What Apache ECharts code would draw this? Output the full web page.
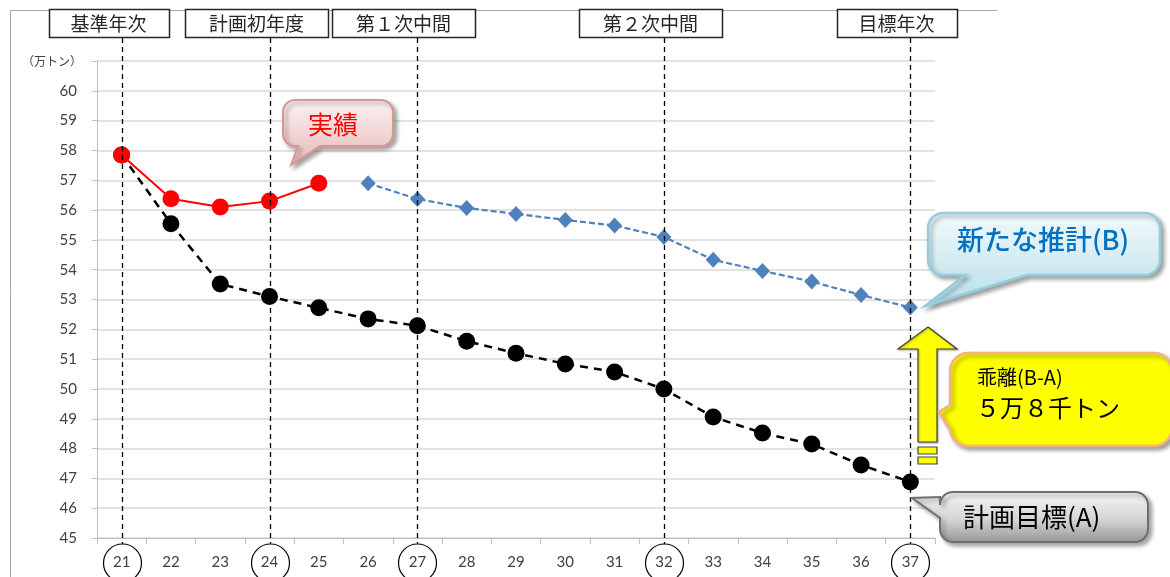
<!DOCTYPE html>
<html><head><meta charset="utf-8">
<script src="https://cdn.jsdelivr.net/npm/echarts@6/dist/echarts.min.js"></script>
<style>html,body{margin:0;padding:0;background:#fff}#c{width:1170px;height:577px}</style>
</head><body><div id="c"></div>
<script>
// ---- data ----
const categories = ['21','22','23','24','25','26','27','28','29','30','31','32','33','34','35','36','37'];
const actualValues = [57.85, 56.38, 56.1, 56.3, 56.9, null, null, null, null, null, null, null, null, null, null, null, null];
const planValues = [57.85, 55.54, 53.52, 53.1, 52.72, 52.35, 52.12, 51.6, 51.2, 50.84, 50.57, 50.0, 49.06, 48.52, 48.15, 47.45, 46.88];
const estimateValues = [null, null, null, null, null, 56.9, 56.37, 56.07, 55.87, 55.67, 55.48, 55.1, 54.33, 53.96, 53.6, 53.15, 52.73];
const yMin = 45, yMax = 61, yInterval = 1;
const unitLabel = '（万トン）';
const milestoneYears = ['21', '24', '27', '32', '37'];
const milestoneLabels = ['基準年次', '計画初年度', '第１次中間', '第２次中間', '目標年次'];

const FONT = 'Lato, "Noto Sans", "Noto Sans CJK JP", sans-serif';
const JP = '"Noto Sans CJK JP", sans-serif';

const chart = echarts.init(document.getElementById('c'), null, {renderer: 'canvas'});
chart.setOption({
  animation: false,
  backgroundColor: '#fff',
  grid: {left: 97, right: 235, top: 61, bottom: 39},
  xAxis: {
    type: 'category', data: categories, boundaryGap: true,
    axisLine: {lineStyle: {color: '#BFBFBF', width: 1}},
    axisTick: {show: true, interval: 0, length: 6, lineStyle: {color: '#BFBFBF'}},
    axisLabel: {interval: 0, margin: 17, color: '#404040', fontSize: 15, fontFamily: FONT}
  },
  yAxis: {
    type: 'value', min: yMin, max: yMax, interval: yInterval,
    axisLine: {show: true, lineStyle: {color: '#BFBFBF'}},
    axisTick: {show: true, length: 5, lineStyle: {color: '#BFBFBF'}},
    splitLine: {lineStyle: {color: '#D9D9D9', width: 1.5}},
    axisLabel: {
      margin: 20, color: '#404040', fontSize: 15, fontFamily: FONT,
      formatter: v => v === yMax ? '{u|' + unitLabel + '}' : String(v),
      rich: {u: {fontSize: 12, color: '#404040', fontFamily: JP, padding: [0, -5, 0, 0]}}
    }
  },
  series: [
    {
      name: '計画目標', type: 'line', data: planValues, z: 3,
      symbol: 'circle', symbolSize: 17,
      itemStyle: {color: '#000'},
      lineStyle: {color: '#000', width: 2.5, type: [8, 6]}
    },
    {
      name: '新たな推計', type: 'line', data: estimateValues, z: 3,
      symbol: 'diamond', symbolSize: [15, 16],
      itemStyle: {color: '#4F81BD'},
      lineStyle: {color: '#4F81BD', width: 2.2, type: [6, 3]}
    },
    {
      name: '実績', type: 'line', data: actualValues, z: 4,
      symbol: 'circle', symbolSize: 17,
      itemStyle: {color: '#FF0000'},
      lineStyle: {color: '#FF0000', width: 2}
    }
  ]
});

function xOf(cat) { return chart.convertToPixel({xAxisIndex: 0}, cat); }

// rounded-rect callout outline as polygon points
function callout(x, y, w, h, r, tail) {
  const pts = [];
  const arc = (cx, cy, a0, a1) => {
    for (let i = 0; i <= 8; i++) {
      const a = (a0 + (a1 - a0) * i / 8) * Math.PI / 180;
      pts.push([cx + r * Math.cos(a), cy + r * Math.sin(a)]);
    }
  };
  if (tail && tail.edge === 'top') { pts.push([tail.a, y], tail.tip, [tail.b, y]); }
  arc(x + w - r, y + r, -90, 0);
  arc(x + w - r, y + h - r, 0, 90);
  if (tail && tail.edge === 'bottom') { pts.push([tail.b, y + h], tail.tip, [tail.a, y + h]); }
  arc(x + r, y + h - r, 90, 180);
  if (tail && tail.edge === 'left') { pts.push([x, tail.b], tail.tip, [x, tail.a]); }
  arc(x + r, y + r, 180, 270);
  return pts;
}

const shadow = {shadowBlur: 4, shadowOffsetX: 3, shadowOffsetY: 3, shadowColor: 'rgba(0,0,0,0.35)'};
const vgrad = (stops) => ({type: 'linear', x: 0, y: 0, x2: 0, y2: 1, colorStops: stops.map(s => ({offset: s[0], color: s[1]}))});
const graphics = [];

// outer frame
graphics.push({type: 'line', z: 1, shape: {x1: 10, y1: 10.5, x2: 997, y2: 10.5}, style: {stroke: '#A6A6A6', lineWidth: 1}});
graphics.push({type: 'line', z: 1, shape: {x1: 10.5, y1: 10, x2: 10.5, y2: 577}, style: {stroke: '#A6A6A6', lineWidth: 1}});

// milestone dashed lines, header boxes, circled labels
milestoneYears.forEach((yr, i) => {
  const x = Math.round(xOf(yr)) + 0.5;
  graphics.push({type: 'line', z: 5, shape: {x1: x, y1: 38, x2: x, y2: 544},
    style: {stroke: '#000', lineWidth: 1.3, lineDash: [5, 4]}});
  const w = milestoneLabels[i].length >= 5 ? 143 : 120;
  const cx = x - 14;
  graphics.push({type: 'rect', z: 6, shape: {x: Math.round(cx - w / 2) + 0.5, y: 9.5, width: w, height: 28},
    style: {fill: '#fff', stroke: '#262626', lineWidth: 1.5}});
  graphics.push({type: 'text', z: 7, x: cx, y: 24,
    style: {text: milestoneLabels[i], fill: '#262626', font: '19px ' + JP, align: 'center', verticalAlign: 'middle'}});
  graphics.push({type: 'circle', z: 6, shape: {cx: x, cy: 563, r: 19},
    style: {fill: 'none', stroke: '#000', lineWidth: 1.2}});
});

// 実績 callout
graphics.push({type: 'polygon', z: 8,
  shape: {points: callout(283, 100, 110, 46, 12, {edge: 'bottom', a: 298, b: 320, tip: [291, 165]})},
  style: Object.assign({fill: vgrad([[0, '#FDF3F3'], [1, '#E6B9B8']]), stroke: '#D99694', lineWidth: 2}, shadow)});
graphics.push({type: 'text', z: 9, x: 333, y: 124,
  style: {text: '実績', fill: '#FF0000', font: '25px ' + JP, align: 'center', verticalAlign: 'middle'}});

// 新たな推計(B) callout
graphics.push({type: 'polygon', z: 8,
  shape: {points: callout(928, 213, 232, 62, 15, {edge: 'bottom', a: 965, b: 1027, tip: [925, 306]})},
  style: Object.assign({fill: vgrad([[0, '#F2FAFC'], [1, '#B7DEE8']]), stroke: '#93CDDD', lineWidth: 2.5}, shadow)});
graphics.push({type: 'text', z: 9, x: 1043, y: 240,
  style: {text: '新たな推計(B)', fill: '#0070C0', font: '500 27px ' + JP, align: 'center', verticalAlign: 'middle'}});

// yellow arrow
graphics.push({type: 'polygon', z: 8,
  shape: {points: [[928, 327], [957, 349], [937, 349], [937, 442], [918, 442], [918, 349], [898, 349]]},
  style: {fill: '#FFFF00', stroke: '#404040', lineWidth: 1.2, shadowBlur: 2, shadowOffsetX: 1, shadowOffsetY: 1, shadowColor: 'rgba(0,0,0,0.3)'}});
graphics.push({type: 'rect', z: 8, shape: {x: 918, y: 447, width: 19, height: 7}, style: {fill: '#FFFF00', stroke: '#404040', lineWidth: 1.2}});
graphics.push({type: 'rect', z: 8, shape: {x: 918, y: 457, width: 19, height: 7}, style: {fill: '#FFFF00', stroke: '#404040', lineWidth: 1.2}});

// 乖離 callout
graphics.push({type: 'polygon', z: 8,
  shape: {points: callout(950, 353, 222, 93, 18, {edge: 'left', a: 405, b: 430, tip: [939, 412]})},
  style: Object.assign({fill: '#FFFF00', stroke: '#F4B183', lineWidth: 2.5}, shadow)});
graphics.push({type: 'text', z: 9, x: 977, y: 377,
  style: {text: '乖離(B-A)', fill: '#000', font: '20px ' + JP, align: 'left', verticalAlign: 'middle'}});
graphics.push({type: 'text', z: 9, x: 976, y: 408,
  style: {text: '５万８千トン', fill: '#000', font: '24px ' + JP, align: 'left', verticalAlign: 'middle'}});

// 計画目標(A) callout
graphics.push({type: 'polygon', z: 8,
  shape: {points: callout(940, 492, 208, 50, 13, {edge: 'left', a: 497, b: 518, tip: [912, 498]})},
  style: Object.assign({fill: vgrad([[0, '#F7F7F7'], [0.55, '#D4D4D4'], [1, '#959595']]), stroke: '#6F6F6F', lineWidth: 2}, shadow)});
graphics.push({type: 'text', z: 9, x: 963, y: 517,
  style: {text: '計画目標(A)', fill: '#000', font: '26px ' + JP, align: 'left', verticalAlign: 'middle'}});

chart.setOption({graphic: graphics});
</script>
</body></html>
